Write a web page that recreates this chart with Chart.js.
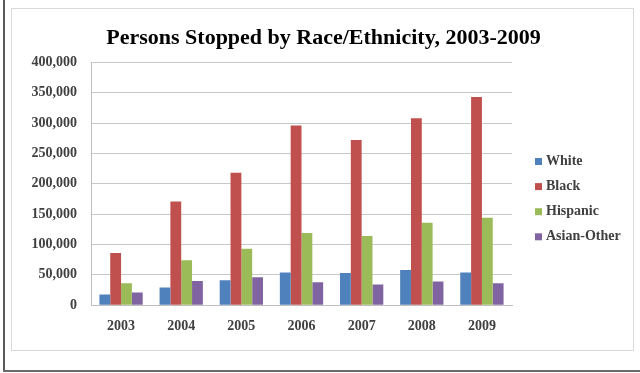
<!DOCTYPE html>
<html>
<head>
<meta charset="utf-8">
<script src="https://cdn.jsdelivr.net/npm/chart.js@4/dist/chart.umd.min.js"></script>
<style>
  html, body { margin: 0; padding: 0; background: #fff; }
  #wrap { position: relative; width: 640px; height: 373px; overflow: hidden; }
  #frameV { position: absolute; left: 3px; top: 0; width: 2px; height: 372px; background: #5a5a5a; }
  #frameH { position: absolute; left: 3px; top: 370px; width: 637px; height: 2px; background: #6a6a6a; }
  #box { position: absolute; left: 11px; top: 8px; width: 621px; height: 341px; border: 1px solid #d9d9d9; }
  #chart { position: absolute; left: 0; top: 0; }
</style>
</head>
<body>
<div id="wrap">
  <div id="frameV"></div>
  <div id="frameH"></div>
  <div id="box"></div>
  <canvas id="chart" width="640" height="373"></canvas>
</div>
<script>
const years = ['2003', '2004', '2005', '2006', '2007', '2008', '2009'];
const white    = [17600, 29000, 41000, 54000, 53000, 58000, 54000];
const black    = [86000, 171000, 218000, 296000, 272000, 308000, 343000];
const hispanic = [36000, 74000, 93000, 119000, 114000, 136000, 144000];
const asianOther = [21000, 40000, 46000, 38000, 34000, 39000, 36000];
const yTicks = [0, 50000, 100000, 150000, 200000, 250000, 300000, 350000, 400000];

const serif = "'Liberation Serif', 'DejaVu Serif', serif";

// legend drawn to the right of the plot, like the Excel original
const sideLegend = {
    id: 'sideLegend',
    afterDraw(chart) {
        const c = chart.ctx;
        const area = chart.chartArea;
        const x = area.right + 23;
        let y = 161.5;
        c.save();
        c.font = 'bold 14px ' + serif;
        c.textBaseline = 'middle';
        chart.data.datasets.forEach(function (ds) {
            c.fillStyle = ds.backgroundColor;
            c.fillRect(x, y - 3.5, 7, 7);
            c.fillStyle = '#404040';
            c.fillText(ds.label, x + 11, y);
            y += 25.1;
        });
        c.restore();
    }
};

const ctx = document.querySelector('#chart').getContext('2d');

new Chart(ctx, {
    type: 'bar',
    data: {
        labels: years,
        datasets: [
            { label: 'White', data: white, backgroundColor: '#4F81BD' },
            { label: 'Black', data: black, backgroundColor: '#C0504D' },
            { label: 'Hispanic', data: hispanic, backgroundColor: '#9BBB59' },
            { label: 'Asian-Other', data: asianOther, backgroundColor: '#8064A2' }
        ]
    },
    options: {
        responsive: false,
        animation: false,
        layout: { padding: { top: 25, left: 20, right: 13, bottom: 25 } },
        datasets: {
            bar: { categoryPercentage: 0.72, barPercentage: 1.0 }
        },
        plugins: {
            title: {
                display: true,
                text: 'Persons Stopped by Race/Ethnicity, 2003-2009',
                color: '#000',
                font: { family: serif, size: 22, weight: 'bold' },
                padding: { top: 0, bottom: 11 }
            },
            legend: { display: false },
            tooltip: { enabled: false }
        },
        scales: {
            x: {
                grid: { display: false, drawTicks: false },
                border: { color: '#bfbfbf' },
                ticks: {
                    color: '#404040',
                    padding: 13,
                    font: { family: serif, size: 14, weight: 'bold' }
                }
            },
            y: {
                min: 0,
                max: 400000,
                afterFit: function (scale) { scale.width = 71; },
                afterBuildTicks: function (scale) {
                    scale.ticks = yTicks.map(function (v) { return { value: v }; });
                },
                grid: { color: '#c8c8c8', drawTicks: false },
                border: { color: '#bfbfbf' },
                ticks: {
                    color: '#404040',
                    padding: 14,
                    font: { family: serif, size: 14, weight: 'bold' },
                    callback: function (v) { return v.toLocaleString('en-US'); }
                }
            },
            // empty right-hand axis that reserves room for the legend
            legendSpace: {
                type: 'linear',
                position: 'right',
                display: true,
                afterFit: function (scale) { scale.width = 115; },
                grid: { display: false, drawTicks: false },
                border: { display: false },
                ticks: { display: false }
            }
        }
    },
    plugins: [sideLegend]
});
</script>
</body>
</html>
